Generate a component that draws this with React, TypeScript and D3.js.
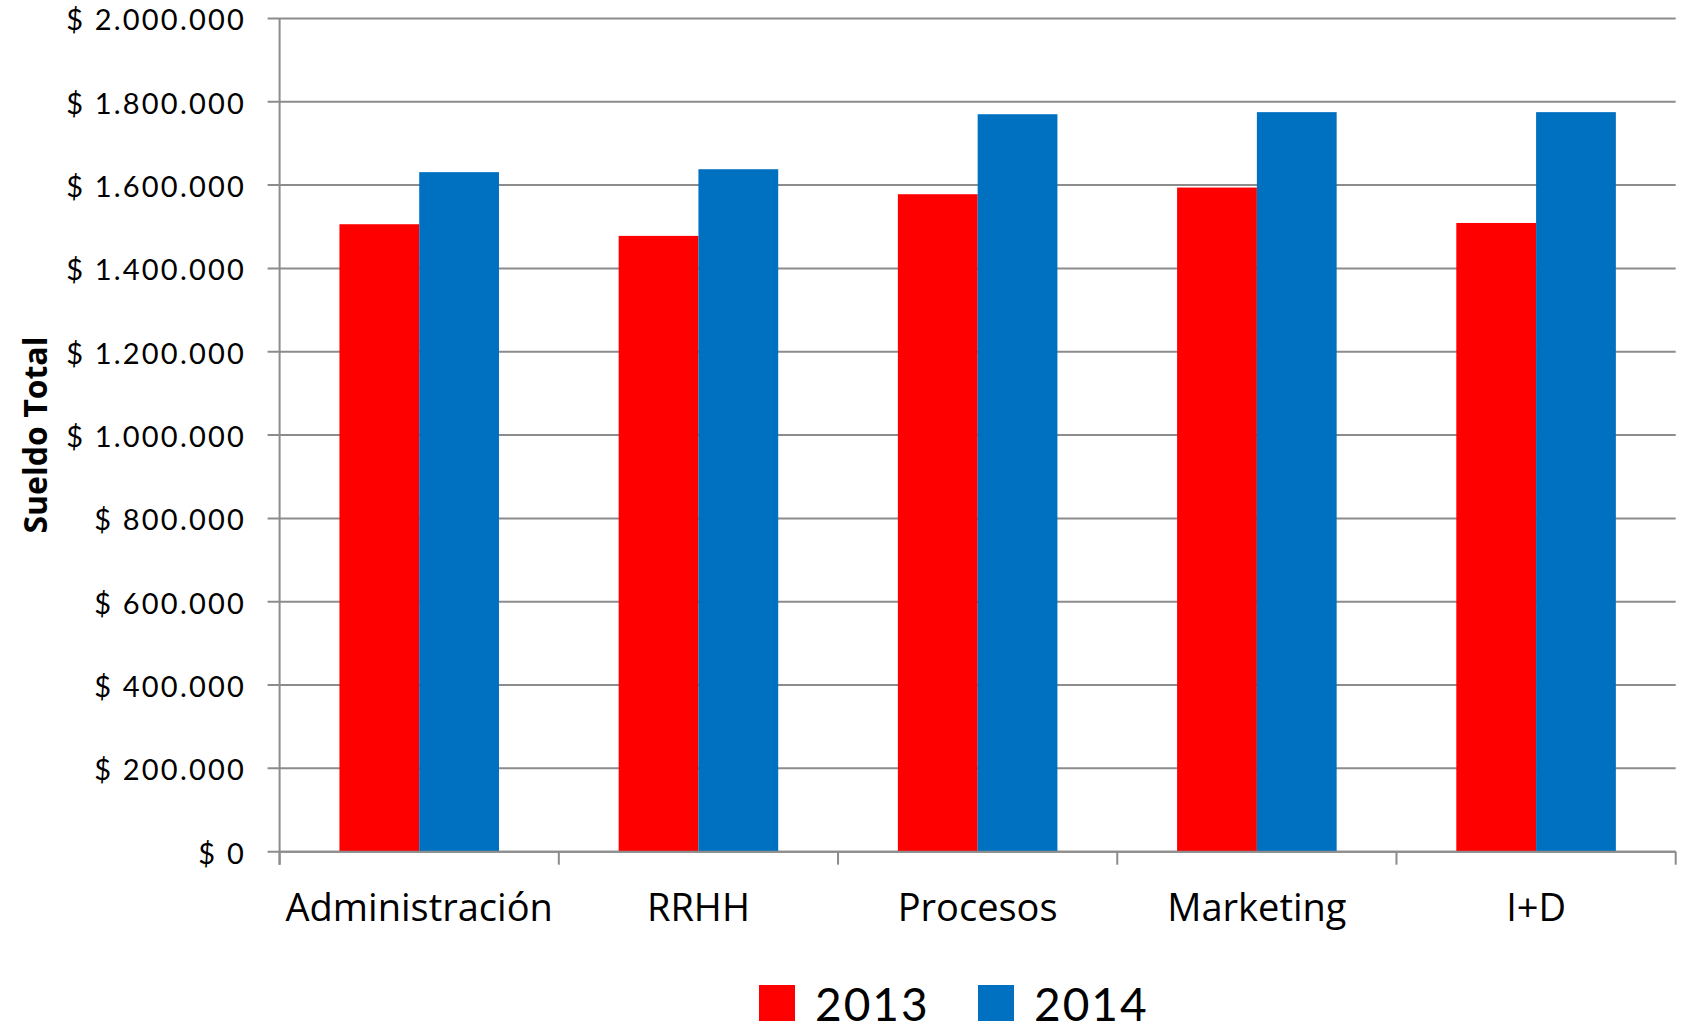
import React from 'react';
import * as d3 from 'd3';

const categories = ['Administración', 'RRHH', 'Procesos', 'Marketing', 'I+D'];
const seriesNames = ['2013', '2014'];
const values2013 = [1506000, 1478000, 1578000, 1594000, 1509000];
const values2014 = [1631000, 1638000, 1770000, 1775000, 1775000];
const yTicks = [0, 200000, 400000, 600000, 800000, 1000000, 1200000, 1400000, 1600000, 1800000, 2000000];
const colors = ['#FF0000', '#0070C0'];

const W = 1693;
const H = 1034;
const margin = { top: 18.4, right: 17.3, bottom: 182.3, left: 279.6 };
const gridColor = '#8c8c8c';

const money = d3.formatLocale({
    decimal: ',',
    thousands: '.',
    grouping: [3],
    currency: ['$ ', ''],
}).format('$,.0f');

const App = () => {
    const x0 = d3.scaleBand()
        .domain(categories)
        .range([margin.left, W - margin.right])
        .paddingInner(1.5 / 3.5)
        .paddingOuter(0.75 / 3.5);

    const x1 = d3.scaleBand()
        .domain(seriesNames)
        .range([0, x0.bandwidth()]);

    const y = d3.scaleLinear()
        .domain([0, 2000000])
        .range([H - margin.bottom, margin.top]);

    const series = [values2013, values2014];
    const step = x0.step();
    const boundaries = d3.range(categories.length + 1).map(i => margin.left + i * step);
    const yBase = y(0);

    return (
        <svg width={W} height={H} style={{ position: 'absolute', left: 0, top: 0, background: '#fff' }}>
            {/* gridlines and y ticks */}
            {yTicks.map(t => (
                <g key={t}>
                    <line x1={margin.left - 12} x2={W - margin.right} y1={y(t)} y2={y(t)}
                        stroke={gridColor} strokeWidth={2} />
                    <text x={246} y={y(t) + 12} textAnchor="end"
                        style={{ fontFamily: 'Lato', fontSize: 29, letterSpacing: '2.2px' }} fill="#000">
                        {money(t)}
                    </text>
                </g>
            ))}

            {/* bars */}
            {series.map((vals, si) => (
                <g key={seriesNames[si]} fill={colors[si]}>
                    {categories.map((c, i) => (
                        <rect key={c}
                            x={(x0(c) as number) + (x1(seriesNames[si]) as number)}
                            y={y(vals[i])}
                            width={x1.bandwidth()}
                            height={yBase - y(vals[i])} />
                    ))}
                </g>
            ))}

            {/* axes */}
            <line x1={margin.left} x2={margin.left} y1={margin.top} y2={yBase + 13}
                stroke={gridColor} strokeWidth={2} />
            <line x1={margin.left} x2={W - margin.right} y1={yBase} y2={yBase}
                stroke={gridColor} strokeWidth={2} />
            {boundaries.map((bx, i) => (
                <line key={i} x1={bx} x2={bx} y1={yBase} y2={yBase + 13} stroke={gridColor} strokeWidth={2} />
            ))}

            {/* category labels */}
            {categories.map(c => (
                <text key={c} x={(x0(c) as number) + x0.bandwidth() / 2} y={yBase + 69}
                    textAnchor="middle" style={{ fontFamily: 'Open Sans', fontSize: 38 }} fill="#000">
                    {c}
                </text>
            ))}

            {/* y axis title */}
            <text transform={`translate(46.5, ${(margin.top + yBase) / 2}) rotate(-90)`} textAnchor="middle"
                style={{ fontFamily: 'Open Sans', fontSize: 32, fontWeight: 700 }} fill="#000">
                Sueldo Total
            </text>

            {/* legend */}
            {seriesNames.map((s, i) => (
                <g key={s} transform={`translate(${759 + i * 219}, 985)`}>
                    <rect width={36} height={36} fill={colors[i]} />
                    <text x={56} y={36} style={{ fontFamily: 'Lato', fontSize: 46, letterSpacing: '2px' }} fill="#000">
                        {s}
                    </text>
                </g>
            ))}
        </svg>
    );
};

export default App;
